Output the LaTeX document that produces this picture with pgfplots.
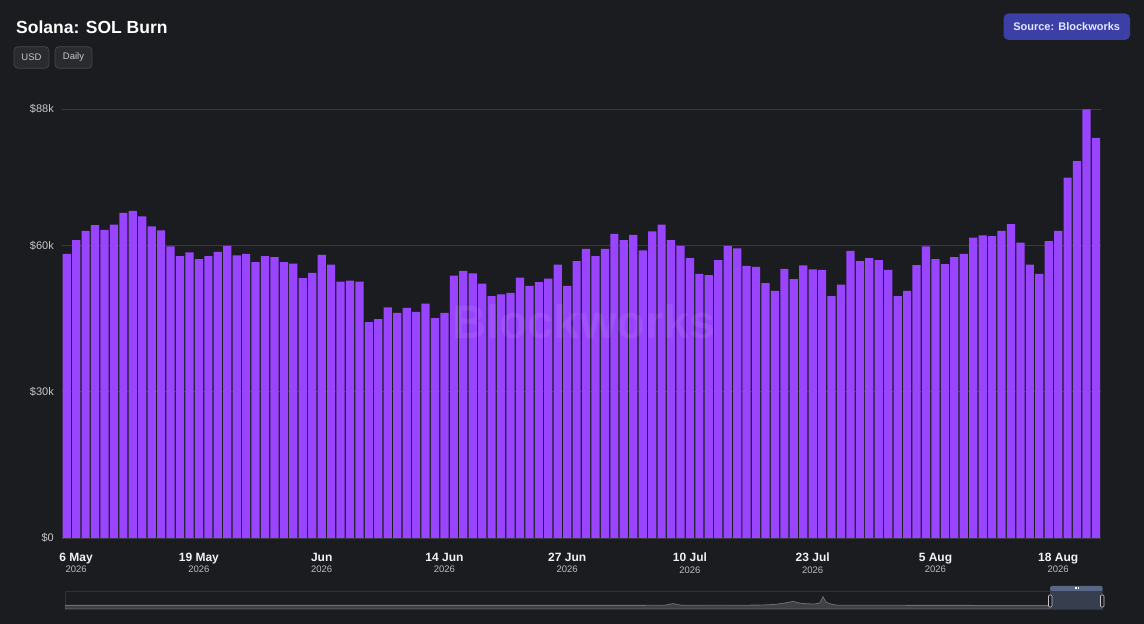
\documentclass[border=0pt]{standalone}
\usepackage{pgfplots}
\pgfplotsset{compat=1.18}
\usepackage{pgfplotstable}
\usepackage{fontspec}
\setmainfont{Liberation Sans}
\definecolor{bg}{HTML}{1B1C1F}
\definecolor{gridc}{HTML}{3A3B40}
\definecolor{barc}{HTML}{9945FF}
\definecolor{ytc}{HTML}{C8C8CC}
\definecolor{datec}{HTML}{F2F2F2}
\definecolor{yearc}{HTML}{BDBDC2}
\definecolor{btnfill}{HTML}{2A2B2F}
\definecolor{btnline}{HTML}{46474C}
\definecolor{srcfill}{HTML}{3C3FA5}
\definecolor{srctext}{HTML}{E6E7FF}
\definecolor{navline}{HTML}{6B6D73}
\definecolor{navfill}{HTML}{3E4045}
\definecolor{navframe}{HTML}{313237}
\definecolor{selfill}{HTML}{373E4D}
\definecolor{seltop}{HTML}{5A6685}

\pgfplotstableread{
x y
0 58.3
1 61.1
2 63.0
3 64.2
4 63.2
5 64.3
6 66.7
7 67.1
8 66.0
9 63.9
10 63.1
11 59.8
12 57.8
13 58.6
14 57.2
15 57.8
16 58.7
17 59.9
18 58.0
19 58.3
20 56.6
21 57.8
22 57.6
23 56.6
24 56.3
25 53.3
26 54.4
27 58.1
28 56.1
29 52.6
30 52.8
31 52.6
32 44.3
33 44.9
34 47.3
35 46.2
36 47.2
37 46.4
38 48.1
39 45.1
40 46.2
41 53.8
42 54.8
43 54.3
44 52.2
45 49.6
46 50.0
47 50.3
48 53.4
49 51.7
50 52.5
51 53.2
52 56.1
53 51.7
54 56.8
55 59.3
56 57.8
57 59.3
58 62.4
59 61.1
60 62.2
61 59.0
62 62.9
63 64.3
64 61.1
65 59.9
66 57.4
67 54.2
68 53.9
69 57.0
70 59.9
71 59.4
72 55.8
73 55.6
74 52.3
75 50.7
76 55.2
77 53.1
78 55.9
79 55.1
80 55.0
81 49.6
82 52.0
83 58.9
84 56.8
85 57.4
86 57.0
87 55.0
88 49.6
89 50.7
90 56.0
91 59.8
92 57.2
93 56.2
94 57.6
95 58.3
96 61.6
97 62.1
98 61.9
99 63.0
100 64.4
101 60.6
102 56.1
103 54.2
104 60.9
105 63.0
106 73.9
107 77.3
108 87.9
109 82.1
}\burn

\pgfplotstableread{
x y
65 3.6
640 3.6
665 3.8
673 5.4
681 3.8
720 3.7
760 3.9
775 4.6
785 6.0
793 7.6
801 5.6
814 4.9
820 6.2
823 12.3
826 6.8
832 4.6
838 3.7
1102 3.5
}\nav

\begin{document}
\begin{tikzpicture}[x=1pt,y=1pt]
\fill[bg] (0,0) rectangle (1144,624);

% header
\node[anchor=base west, inner sep=0pt, text=white, font=\fontsize{17.5}{20}\selectfont\bfseries] at (16,624-33.3) {Solana: SOL Burn};
\draw[btnline, fill=btnfill, rounded corners=4pt, line width=0.7pt] (14,624-46.7) rectangle (49,624-68.3);
\node[text=ytc, font=\fontsize{9.5}{11}\selectfont, inner sep=0pt] at (31.5,624-57.5) {USD};
\draw[btnline, fill=btnfill, rounded corners=4pt, line width=0.7pt] (55,624-46.7) rectangle (92,624-68.3);
\node[text=ytc, font=\fontsize{9.5}{11}\selectfont, inner sep=0pt] at (73.5,624-57.5) {Daily};
\fill[srcfill, rounded corners=5pt] (1003.5,624-13.5) rectangle (1130,624-40);
\node[text=srctext, font=\fontsize{11}{13}\selectfont\bfseries, inner sep=0pt] at (1066.7,624-26.8) {Source: Blockworks};

\begin{axis}[
  at={(62pt,86pt)}, anchor=south west, scale only axis,
  width=1038.7pt, height=429pt,
  xmin=-0.5, xmax=109.5, ymin=0, ymax=88,
  axis line style={draw=none},
  major tick style={draw=none},
  ytick={0,30,60,88},
  yticklabels={\$0,\$30k,\$60k,\$88k},
  ymajorgrids, grid style={gridc, line width=0.8pt},
  yticklabel style={text=ytc, font=\fontsize{11}{13}\selectfont, inner sep=0pt, xshift=-8pt},
  xtick={1,14,27,40,53,66,79,92,105},
  xticklabels={
    {\bfseries 6 May}\\[-0.6pt]{\color{yearc}\fontsize{9.5}{10}\selectfont 2026},
    {\bfseries 19 May}\\[-0.6pt]{\color{yearc}\fontsize{9.5}{10}\selectfont 2026},
    {\bfseries Jun}\\[-0.6pt]{\color{yearc}\fontsize{9.5}{10}\selectfont 2026},
    {\bfseries 14 Jun}\\[-0.6pt]{\color{yearc}\fontsize{9.5}{10}\selectfont 2026},
    {\bfseries 27 Jun}\\[-0.6pt]{\color{yearc}\fontsize{9.5}{10}\selectfont 2026},
    {\bfseries 10 Jul}\\[-0.6pt]{\color{yearc}\fontsize{9.5}{10}\selectfont 2026},
    {\bfseries 23 Jul}\\[-0.6pt]{\color{yearc}\fontsize{9.5}{10}\selectfont 2026},
    {\bfseries 5 Aug}\\[-0.6pt]{\color{yearc}\fontsize{9.5}{10}\selectfont 2026},
    {\bfseries 18 Aug}\\[-0.6pt]{\color{yearc}\fontsize{9.5}{10}\selectfont 2026}},
  xticklabel style={align=center, text=datec, font=\fontsize{12}{12}\selectfont, inner sep=0pt, yshift=-15pt},
  clip=false,
]
\addplot[ybar, bar width=8.2pt, fill=barc, draw=none] table[x=x,y=y] {\burn};
\end{axis}

% watermark
\node[text=white, opacity=0.07, font=\fontsize{47}{50}\selectfont\bfseries, inner sep=0pt] at (584,624-322) {Blockworks};

% navigator
\draw[navframe, line width=0.8pt] (65,624-609) rectangle (1102,624-591);
\begin{axis}[
  at={(65pt,15pt)}, anchor=south west, scale only axis,
  width=1037pt, height=18pt,
  xmin=65, xmax=1102, ymin=0, ymax=18,
  hide axis,
]
\addplot[navline, line width=0.8pt, fill=navfill] table[x=x,y=y] {\nav} \closedcycle;
\end{axis}
\fill[selfill] (1050,624-609) rectangle (1102.7,624-590.5);
\fill[seltop, rounded corners=1.5pt] (1050,624-590.8) rectangle (1102.7,624-586);
\draw[white, line width=0.5pt] (1075,624-587.5) -- (1075,624-589.3) (1076.4,624-587.5) -- (1076.4,624-589.3) (1077.8,624-587.5) -- (1077.8,624-589.3);
\draw[ytc, fill=bg, line width=0.6pt, rounded corners=1pt] (1048.5,624-607) rectangle (1052,624-595);
\draw[ytc, fill=bg, line width=0.6pt, rounded corners=1pt] (1100.5,624-607) rectangle (1104,624-595);

\pgfresetboundingbox
\useasboundingbox (0,0) rectangle (1144,624);
\end{tikzpicture}
\end{document}
